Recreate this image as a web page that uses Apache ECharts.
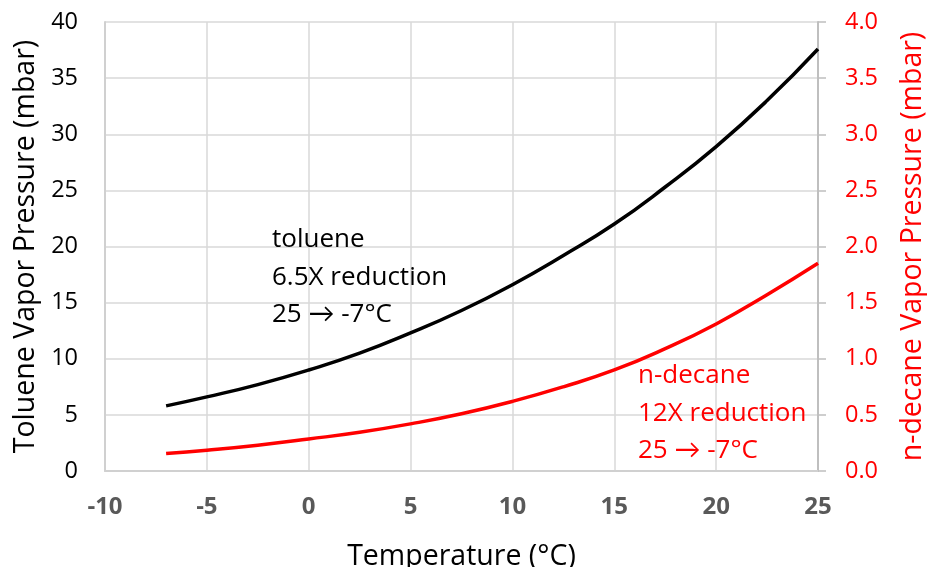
<!DOCTYPE html>
<html><head><meta charset="utf-8">
<script src="https://cdn.jsdelivr.net/npm/echarts@6/dist/echarts.min.js"></script>
<style>html,body{margin:0;padding:0;background:#fff}#c{width:927px;height:567px}</style>
</head><body><div id="c"></div>
<script>
const temps = [-7, -5, -2.5, 0, 2.5, 5, 7.5, 10, 12.5, 15, 17.5, 20, 22.5, 25];
const toluene = [5.8, 6.6, 7.7, 9.0, 10.5, 12.3, 14.3, 16.6, 19.2, 22.0, 25.3, 28.9, 33.0, 37.6];
const decane = [0.155, 0.185, 0.23, 0.285, 0.345, 0.42, 0.51, 0.62, 0.75, 0.9, 1.09, 1.31, 1.57, 1.85];
const leftTitle = 'Toluene Vapor Pressure (mbar)';
const rightTitle = 'n-decane Vapor Pressure (mbar)';
const xTitle = 'Temperature (°C)';
const tolNote = ['toluene', '6.5X reduction', '25 → -7°C'];
const decNote = ['n-decane', '12X reduction', '25 → -7°C'];

const font = '"Open Sans", Lato, sans-serif';
const chart = echarts.init(document.getElementById('c'));
chart.setOption({
  animation: false,
  grid: {left: 105, right: 109, top: 22, bottom: 96, containLabel: false, outerBoundsMode: 'none'},
  xAxis: {
    type: 'value', min: -10, max: 25, interval: 5,
    name: xTitle, nameLocation: 'middle', nameGap: 71,
    nameTextStyle: {fontSize: 28.5, color: '#000', fontFamily: font},
    axisLine: {onZero: false, lineStyle: {color: '#d0d0d0', width: 2}},
    axisTick: {show: false},
    axisLabel: {fontSize: 24, fontWeight: 'bold', color: '#595959', fontFamily: font, margin: 24},
    splitLine: {lineStyle: {color: '#d9d9d9', width: 1.5}}
  },
  yAxis: [{
    type: 'value', min: 0, max: 40, interval: 5, position: 'left',
    name: leftTitle, nameLocation: 'middle', nameGap: 63,
    nameTextStyle: {fontSize: 28.5, color: '#000', fontFamily: font},
    axisLine: {show: true, onZero: false, lineStyle: {color: '#d0d0d0', width: 2}},
    axisTick: {show: false},
    axisLabel: {fontSize: 23.5, color: '#000', fontFamily: font, margin: 27},
    splitLine: {lineStyle: {color: '#d9d9d9', width: 1.5}}
  }, {
    type: 'value', min: 0, max: 4, interval: 0.5, position: 'right',
    name: rightTitle, nameLocation: 'middle', nameGap: 80, nameRotate: 90,
    nameTextStyle: {fontSize: 28.5, color: '#ff0000', fontFamily: font},
    axisLine: {show: true, onZero: false, lineStyle: {color: '#bfbfbf', width: 2}},
    axisTick: {show: true, length: 8, lineStyle: {color: '#bfbfbf', width: 1.5}},
    axisLabel: {fontSize: 23.5, color: '#ff0000', fontFamily: font, margin: 27,
      formatter: v => v.toFixed(1)},
    splitLine: {show: false}
  }],
  series: [{
    type: 'line', yAxisIndex: 0, smooth: true, symbol: 'none',
    lineStyle: {color: '#000', width: 3.5},
    data: temps.map((t, i) => [t, toluene[i]])
  }, {
    type: 'line', yAxisIndex: 1, smooth: true, symbol: 'none',
    lineStyle: {color: '#ff0000', width: 3.5},
    data: temps.map((t, i) => [t, decane[i]])
  }],
  graphic: [{
    type: 'text', left: 272, top: 221, z: 100,
    style: {text: tolNote.join('\n'), fontSize: 26, lineHeight: 37.5, fill: '#000', fontFamily: font}
  }, {
    type: 'text', left: 638, top: 357, z: 100,
    style: {text: decNote.join('\n'), fontSize: 26, lineHeight: 37.5, fill: '#ff0000', fontFamily: font}
  }]
});
</script></body></html>
